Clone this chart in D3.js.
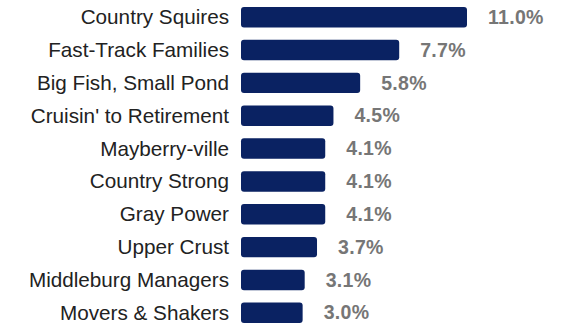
<!DOCTYPE html>
<html>
<head>
<meta charset="utf-8">
<script src="https://cdn.jsdelivr.net/npm/d3@7"></script>
<style>
  html, body { margin: 0; padding: 0; background: #fff; }
  svg { display: block; }
</style>
</head>
<body>
<svg id="chart" width="563" height="324"></svg>
<script>
// Segment names and their share (%)
const segments = [
  "Country Squires",
  "Fast-Track Families",
  "Big Fish, Small Pond",
  "Cruisin' to Retirement",
  "Mayberry-ville",
  "Country Strong",
  "Gray Power",
  "Upper Crust",
  "Middleburg Managers",
  "Movers & Shakers"
];
const shares = [11.0, 7.7, 5.8, 4.5, 4.1, 4.1, 4.1, 3.7, 3.1, 3.0];

const data = segments.map((name, i) => ({ name, value: shares[i] }));

const svg = d3.select("#chart");

const x = d3.scaleLinear().domain([0, 11]).range([241, 467]);
const y = d3.scaleBand()
  .domain(segments)
  .range([0.8, 329.2])
  .paddingInner(0.377)
  .paddingOuter(0.188);

// bars
svg.append("g")
  .selectAll("rect")
  .data(data)
  .join("rect")
  .attr("x", x(0))
  .attr("y", d => y(d.name))
  .attr("width", d => x(d.value) - x(0))
  .attr("height", y.bandwidth())
  .attr("rx", 3)
  .attr("fill", "#0a2262");

// category labels
svg.append("g")
  .selectAll("text")
  .data(data)
  .join("text")
  .attr("x", x(0) - 12)
  .attr("y", d => y(d.name) + y.bandwidth() / 2)
  .attr("dy", "0.34em")
  .attr("text-anchor", "end")
  .attr("font-family", "Liberation Sans, Arial, sans-serif")
  .attr("font-size", 20.7)
  .attr("fill", "#222")
  .text(d => d.name);

// value labels
svg.append("g")
  .selectAll("text")
  .data(data)
  .join("text")
  .attr("x", d => x(d.value) + 21)
  .attr("y", d => y(d.name) + y.bandwidth() / 2)
  .attr("dy", "0.34em")
  .attr("font-family", "Liberation Sans, Arial, sans-serif")
  .attr("font-size", 19.5)
  .attr("font-weight", "bold")
  .attr("letter-spacing", 0.3)
  .attr("fill", "#767676")
  .text(d => d.value.toFixed(1) + "%");
</script>
</body>
</html>
